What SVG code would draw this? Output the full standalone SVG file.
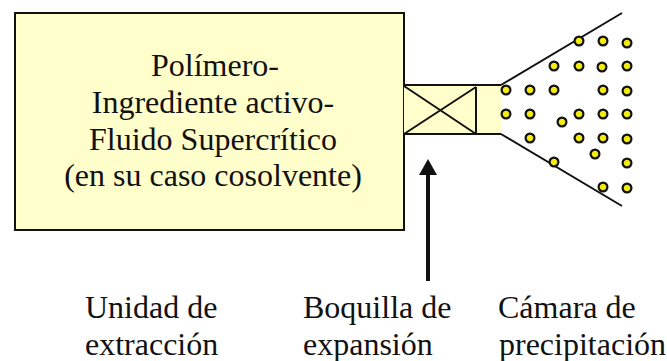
<svg xmlns="http://www.w3.org/2000/svg" width="667" height="361" viewBox="0 0 667 361">
<style>
text{font-family:"Liberation Serif","Times New Roman",serif;fill:#111}
.m{font-size:32px;text-anchor:middle}
.l{font-size:32px}
.s{stroke:#111;stroke-width:2;fill:none}
.d{fill:#f6ec0c;stroke:#111;stroke-width:2.2}
</style>
<defs><circle id="dot" r="4.4" class="d"/></defs>
<rect width="667" height="361" fill="#fff"/>
<g id="unidad-extraccion">
<rect x="15" y="13" width="389" height="217" fill="#ffffcc" stroke="#111" stroke-width="2"/>
<text class="m" x="215" y="76">Polímero-</text>
<text class="m" x="213" y="113">Ingrediente activo-</text>
<text class="m" x="213" y="150">Fluido Supercrítico</text>
<text class="m" x="213" y="186">(en su caso cosolvente)</text>
</g>
<g id="boquilla">
<rect x="404" y="85" width="97" height="49" fill="#ffffcc"/>
<path class="s" d="M404 85H501M404 134H501M476 87V135M404 86L476 134M404 134L476 87"/>
</g>
<g id="camara">
<path class="s" d="M501 85L622 13M501 134L622 206"/>
<use href="#dot" x="579" y="41"/><use href="#dot" x="603" y="41"/><use href="#dot" x="627" y="43"/>
<use href="#dot" x="554" y="66"/><use href="#dot" x="579" y="66"/><use href="#dot" x="602" y="67"/><use href="#dot" x="627" y="66"/>
<use href="#dot" x="506" y="90"/><use href="#dot" x="530" y="90"/><use href="#dot" x="554" y="90"/><use href="#dot" x="603" y="90"/><use href="#dot" x="627" y="91"/>
<use href="#dot" x="506" y="114"/><use href="#dot" x="530" y="114"/><use href="#dot" x="562" y="122"/><use href="#dot" x="579" y="114"/><use href="#dot" x="603" y="114"/><use href="#dot" x="627" y="114"/>
<use href="#dot" x="530" y="138"/><use href="#dot" x="579" y="138"/><use href="#dot" x="603" y="138"/><use href="#dot" x="627" y="139"/>
<use href="#dot" x="595" y="154"/><use href="#dot" x="554" y="162"/><use href="#dot" x="627" y="163"/>
<use href="#dot" x="603" y="187"/><use href="#dot" x="627" y="188"/>
</g>
<g id="connectors">
<path d="M428 172V281" stroke="#111" stroke-width="4" fill="none"/>
<path d="M428 159L437 175H419Z" fill="#111"/>
</g>
<g id="etiquetas">
<text class="l" x="85" y="318">Unidad de</text>
<text class="l" x="85" y="355">extracción</text>
<text class="l" x="303" y="318">Boquilla de</text>
<text class="l" x="303" y="355">expansión</text>
<text class="l" x="498" y="318">Cámara de</text>
<text class="l" x="499" y="355">precipitación</text>
</g>
</svg>
